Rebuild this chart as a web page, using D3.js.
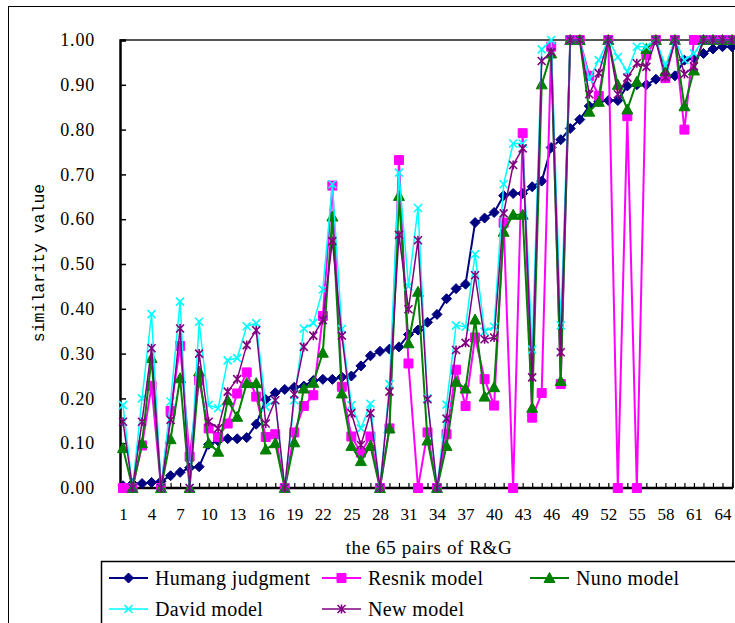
<!DOCTYPE html>
<html>
<head>
<meta charset="utf-8">
<script src="https://cdnjs.cloudflare.com/ajax/libs/d3/7.8.5/d3.min.js"></script>
<style>
  body { margin: 0; background: #fff; }
  svg { display: block; }
</style>
</head>
<body>
<div id="chart"></div>
<script>
"use strict"
// 65 word pairs of Rubenstein & Goodenough, sorted by human score
var pairs = d3.range(1, 66)

var human = [0.005, 0.01, 0.01, 0.0125, 0.015, 0.0275, 0.035, 0.045, 0.0475, 0.0975,
    0.105, 0.11, 0.11, 0.1125, 0.1425, 0.1975, 0.2125, 0.22, 0.225, 0.2275,
    0.24, 0.2425, 0.2425, 0.2475, 0.25, 0.2725, 0.295, 0.305, 0.31, 0.315,
    0.3425, 0.3525, 0.37, 0.3875, 0.4225, 0.445, 0.455, 0.5925, 0.6025, 0.615,
    0.6525, 0.6575, 0.6575, 0.6725, 0.685, 0.76, 0.7775, 0.8025, 0.8225, 0.8525,
    0.8625, 0.865, 0.865, 0.8975, 0.9, 0.9, 0.9125, 0.915, 0.92, 0.955,
    0.96, 0.97, 0.98, 0.985, 0.985]

var resnik = [0, 0, 0.095, 0.228, 0, 0.172, 0.317, 0.07, 0.24, 0.133,
    0.114, 0.144, 0.211, 0.258, 0.204, 0.114, 0.12, 0, 0.124, 0.183,
    0.207, 0.384, 0.675, 0.226, 0.115, 0.079, 0.115, 0, 0.133, 0.732,
    0.278, 0, 0.124, 0, 0.12, 0.264, 0.183, 0.336, 0.243, 0.184,
    0.592, 0, 0.792, 0.157, 0.212, 0.985, 0.232, 1, 1, 0.92,
    0.875, 1, 0, 0.83, 0, 0.967, 1, 0.915, 1, 0.8,
    1, 1, 1, 1, 1]

var nuno = [0.089, 0, 0.1, 0.29, 0, 0.109, 0.245, 0, 0.26, 0.1,
    0.081, 0.196, 0.159, 0.234, 0.234, 0.086, 0.1, 0, 0.102, 0.222,
    0.235, 0.302, 0.606, 0.211, 0.094, 0.06, 0.094, 0, 0.133, 0.652,
    0.323, 0.438, 0.106, 0, 0.094, 0.237, 0.222, 0.376, 0.204, 0.225,
    0.572, 0.61, 0.61, 0.179, 0.901, 0.97, 0.239, 1, 1, 0.84,
    0.862, 1, 0.9, 0.845, 0.907, 0.98, 1, 0.93, 1, 0.852,
    0.932, 1, 1, 1, 1]

var david = [0.185, 0, 0.2, 0.388, 0, 0.193, 0.416, 0, 0.371, 0.185,
    0.178, 0.285, 0.29, 0.361, 0.368, 0.181, 0.196, 0, 0.196, 0.356,
    0.368, 0.443, 0.678, 0.355, 0.185, 0.133, 0.188, 0, 0.232, 0.704,
    0.45, 0.625, 0.2, 0, 0.186, 0.363, 0.36, 0.522, 0.349, 0.36,
    0.678, 0.769, 0.769, 0.309, 0.979, 1, 0.363, 1, 1, 0.913,
    0.955, 1, 0.962, 0.93, 0.985, 0.985, 1, 0.943, 1, 0.955,
    0.97, 1, 1, 1, 1]

var newModel = [0.148, 0, 0.148, 0.312, 0, 0.152, 0.356, 0, 0.3, 0.148,
    0.133, 0.215, 0.243, 0.319, 0.352, 0.144, 0.196, 0, 0.209, 0.315,
    0.34, 0.375, 0.551, 0.34, 0.167, 0.096, 0.167, 0, 0.215, 0.565,
    0.399, 0.553, 0.198, 0, 0.155, 0.308, 0.324, 0.475, 0.332, 0.336,
    0.613, 0.721, 0.758, 0.247, 0.953, 0.973, 0.303, 1, 1, 0.879,
    0.926, 1, 0.879, 0.916, 0.948, 0.94, 1, 0.917, 1, 0.924,
    0.941, 1, 1, 1, 1]

var seriesNames = ["Humang judgment", "Resnik model", "Nuno model", "David model", "New model"]
var yTicks = d3.range(0, 11).map(function (d) { return d / 10 })
var xTickLabels = pairs.filter(function (d) { return (d - 1) % 3 === 0 })

// series styling (marker type per series)
var series = [
    { name: seriesNames[0], values: human, color: "#000080", marker: "diamond", width: 2 },
    { name: seriesNames[1], values: resnik, color: "#ff00ff", marker: "square", width: 2 },
    { name: seriesNames[2], values: nuno, color: "#008000", marker: "triangle", width: 2 },
    { name: seriesNames[3], values: david, color: "#00ffff", marker: "cross", width: 1.5 },
    { name: seriesNames[4], values: newModel, color: "#800080", marker: "star", width: 1.5 }
]

var width = 735
var height = 623
var plot = { left: 120, top: 40, right: 733, bottom: 488 }
var serif = "'Liberation Serif', 'Times New Roman', serif"

var svg = d3.select("#chart").append("svg")
    .attr("width", width)
    .attr("height", height)

// outer chart frame (runs off the right/bottom of the picture)
svg.append("rect")
    .attr("x", 8.5).attr("y", 6.5)
    .attr("width", 760).attr("height", 660)
    .attr("fill", "none").attr("stroke", "#000").attr("stroke-width", 1)

var xScale = d3.scaleLinear().domain([1, 65]).range([123, 732])
var yScale = d3.scaleLinear().domain([0, 1]).range([plot.bottom, plot.top])

// top and right border of plot area
svg.append("line")
    .attr("x1", plot.left).attr("x2", plot.right)
    .attr("y1", plot.top).attr("y2", plot.top)
    .attr("stroke", "#555").attr("stroke-width", 2)
svg.append("line")
    .attr("x1", plot.right).attr("x2", plot.right)
    .attr("y1", plot.top).attr("y2", plot.bottom)
    .attr("stroke", "#222").attr("stroke-width", 2)

// y axis
var yAxis = d3.axisLeft(yScale)
    .tickValues(yTicks)
    .tickSize(-6)
    .tickPadding(25)
    .tickFormat(d3.format(".2f"))
var gy = svg.append("g")
    .attr("transform", "translate(" + plot.left + ",0)")
    .call(yAxis)
gy.select(".domain").attr("stroke", "#000").attr("stroke-width", 2.5)
gy.selectAll(".tick line").attr("stroke", "#000").attr("stroke-width", 1.5)
gy.selectAll("text").attr("font-family", serif).attr("font-size", 18)
    .attr("letter-spacing", 0.8).attr("fill", "#000")

// x axis: tick per pair, label every third
var xAxis = d3.axisBottom(xScale)
    .tickValues(pairs)
    .tickSize(-5)
    .tickPadding(20)
    .tickFormat(function (d) { return xTickLabels.indexOf(d) >= 0 ? d : "" })
var gx = svg.append("g")
    .attr("transform", "translate(0," + plot.bottom + ")")
    .call(xAxis)
gx.select(".domain").attr("d", "M" + plot.left + ",0H" + plot.right)
    .attr("stroke", "#000").attr("stroke-width", 2.5)
gx.selectAll(".tick line").attr("stroke", "#000").attr("stroke-width", 1.2)
gx.selectAll("text").attr("font-family", serif).attr("font-size", 17).attr("fill", "#000")

// axis titles
svg.append("text")
    .attr("x", 429).attr("y", 554)
    .attr("text-anchor", "middle")
    .attr("font-family", serif).attr("font-size", 19)
    .attr("letter-spacing", 0.6)
    .text("the 65 pairs of R&G")

svg.append("text")
    .attr("transform", "translate(44,263) rotate(-90)")
    .attr("text-anchor", "middle")
    .attr("font-family", "'Liberation Mono', 'DejaVu Sans Mono', monospace")
    .attr("font-size", 16.5)
    .text("similarity value")

// marker paths, centred on 0,0
function markerPath(type) {
    if (type === "diamond") return "M0,-5L5,0L0,5L-5,0Z"
    if (type === "square") return "M-4.5,-4.5H4.5V4.5H-4.5Z"
    if (type === "triangle") return "M0,-5.5L5.5,4.5L-5.5,4.5Z"
    if (type === "cross") return "M-4,-4L4,4M-4,4L4,-4"
    return "M-4,-4L4,4M-4,4L4,-4M0,-4.5V4.5" // star
}

function drawMarker(sel, s) {
    var filled = s.marker === "diamond" || s.marker === "square" || s.marker === "triangle"
    sel.attr("d", markerPath(s.marker))
        .attr("fill", filled ? s.color : "none")
        .attr("stroke", s.color)
        .attr("stroke-width", filled ? 1 : 1.6)
}

var line = d3.line()
    .x(function (d, i) { return xScale(pairs[i]) })
    .y(function (d) { return yScale(d) })

series.forEach(function (s) {
    var g = svg.append("g").attr("class", "series")
    g.append("path")
        .attr("d", line(s.values))
        .attr("fill", "none")
        .attr("stroke", s.color)
        .attr("stroke-width", s.width)
        .attr("stroke-linejoin", "round")
    g.selectAll(".mark")
        .data(s.values)
        .enter()
        .append("path")
        .attr("class", "mark")
        .attr("transform", function (d, i) { return "translate(" + xScale(pairs[i]) + "," + yScale(d) + ")" })
        .call(drawMarker, s)
})

// legend box
svg.append("rect")
    .attr("x", 101.5).attr("y", 561.5)
    .attr("width", 700).attr("height", 100)
    .attr("fill", "#fff").attr("stroke", "#000").attr("stroke-width", 1.5)

var legendPos = [[109, 578], [322, 578], [530, 578], [109, 609], [322, 609]]
series.forEach(function (s, i) {
    var lx = legendPos[i][0], ly = legendPos[i][1]
    var item = svg.append("g").attr("transform", "translate(" + lx + "," + ly + ")")
    item.append("line")
        .attr("x1", 0).attr("x2", 39)
        .attr("stroke", s.color).attr("stroke-width", s.width)
    item.append("path")
        .attr("transform", "translate(19.5,0)")
        .call(drawMarker, s)
    item.append("text")
        .attr("x", 46).attr("y", 7)
        .attr("font-family", serif).attr("font-size", 20)
        .attr("letter-spacing", 0.4)
        .text(s.name)
})
</script>
</body>
</html>
